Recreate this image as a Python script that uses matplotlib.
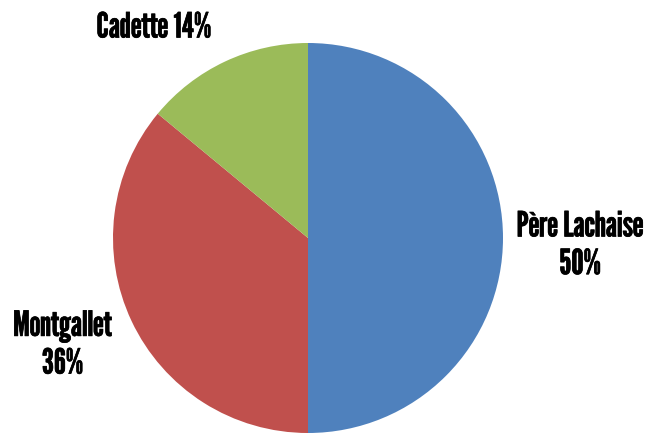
import matplotlib
matplotlib.use("Agg")
import matplotlib.pyplot as plt
import matplotlib.patheffects as pe

categories = ["Père Lachaise", "Montgallet", "Cadette"]
values = [50, 36, 14]
label_texts = ["Père Lachaise\n50%", "Montgallet\n36%", "Cadette 14%"]
colors = ["#4F81BD", "#C0504D", "#9BBB59"]

fig = plt.figure(figsize=(6.52, 4.33), dpi=100)
ax = fig.add_axes([(308 - 195) / 652, 0, 390 / 652, 390 / 433])
ax.pie(values, colors=colors, startangle=90, counterclock=False,
       wedgeprops=dict(linewidth=0))
ax.set_xlim(-1, 1)
ax.set_ylim(-1, 1)
ax.set_aspect("equal")

positions = [(1.395, -0.04), (-1.26, -0.55), (-0.79, 1.077)]
for (x, y), t in zip(positions, label_texts):
    ax.text(x, y, t, ha="center", va="center", fontsize=25,
            family=["League Gothic", "DejaVu Sans"], linespacing=1.27,
            clip_on=False,
            path_effects=[pe.withStroke(linewidth=0.5, foreground="black")])

fig.savefig("out.png", dpi=100)
